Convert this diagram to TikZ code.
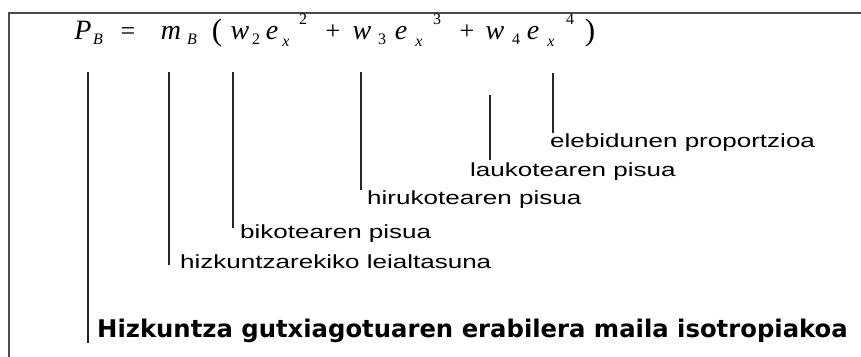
\documentclass[tikz,border=0pt]{standalone}
\usepackage{fontspec}
\setmainfont{Liberation Serif}
\newfontfamily\lblfont[FakeStretch=1.37]{Liberation Sans}
\newfontfamily\boldfont{DejaVu Sans}
\begin{document}
\begin{tikzpicture}[x=1pt,y=-1pt,
  frame/.style={draw=black!70,line width=2pt},
  pointer/.style={draw=black!85,line width=1.3pt},
  fm/.style={font=\fontsize{28}{28}\selectfont\itshape,inner sep=0pt,anchor=base},
  fu/.style={font=\fontsize{26}{26}\selectfont,inner sep=0pt,anchor=base},
  fs/.style={font=\fontsize{16}{16}\selectfont\itshape,inner sep=0pt,anchor=base},
  fsu/.style={font=\fontsize{16}{16}\selectfont,inner sep=0pt,anchor=base},
  paren/.style={font=\fontsize{31}{31}\selectfont,inner sep=0pt,anchor=base},
  lbl/.style={font=\lblfont\fontsize{19}{19}\selectfont,inner sep=0pt,anchor=base west},
  blbl/.style={font=\boldfont\bfseries\fontsize{24.3}{24.3}\selectfont,inner sep=0pt,anchor=base west}]
\useasboundingbox (0,0) rectangle (861,356);
\clip (0,0) rectangle (861,356);
\fill[white] (0,0) rectangle (861,356);
% frame
\draw[frame] (9,360) -- (9,13) -- (865,13);
% formula
\node[fm] (P) at (83,39) {P};
\node[fs] (PB) at (98,44) {B};
\node[fu] (eq) at (128,39) {=};
\node[fm] (m) at (171,39) {m};
\node[fs] (mB) at (192,44) {B};
\node[paren] (lp) at (217,40) {(};
\node[fm] (w2) at (240,39) {w};
\node[fsu] (s2) at (256,44) {2};
\node[fm] (e2) at (272,39) {e};
\node[fs] (x2) at (286,46) {x};
\node[fsu] (p2) at (303,24) {2};
\node[fu] (pl1) at (333,39) {+};
\node[fm] (w3) at (362,39) {w};
\node[fsu] (s3) at (382,44) {3};
\node[fm] (e3) at (401,39) {e};
\node[fs] (x3) at (419,46) {x};
\node[fsu] (p3) at (437,24) {3};
\node[fu] (pl2) at (467,39) {+};
\node[fm] (w4) at (495,39) {w};
\node[fsu] (s4) at (516,44) {4};
\node[fm] (e4) at (533,39) {e};
\node[fs] (x4) at (551,46) {x};
\node[fsu] (p4) at (570,24) {4};
\node[paren] (rp) at (590,40) {)};
% labels
\node[lbl] (l6) at (550,147) {elebidunen proportzioa};
\node[lbl] (l5) at (470,176) {laukotearen pisua};
\node[lbl] (l4) at (367,204) {hirukotearen pisua};
\node[lbl] (l3) at (240,238) {bikotearen pisua};
\node[lbl] (l2) at (180,268) {hizkuntzarekiko leialtasuna};
\node[blbl] (l1) at (97,337) {Hizkuntza gutxiagotuaren erabilera maila isotropiakoa};
% pointer coordinates
\coordinate (t1) at (88,72);  \coordinate (b1) at (88,343);
\coordinate (t2) at (169,72); \coordinate (b2) at (169,265);
\coordinate (t3) at (233,72); \coordinate (b3) at (233,228);
\coordinate (t4) at (361,72); \coordinate (b4) at (361,190);
\coordinate (t5) at (490,95); \coordinate (b5) at (490,160);
\coordinate (t6) at (553,73); \coordinate (b6) at (553,133);
\draw[pointer] (t1) -- (b1);
\draw[pointer] (t2) -- (b2);
\draw[pointer] (t3) -- (b3);
\draw[pointer] (t4) -- (b4);
\draw[pointer] (t5) -- (b5);
\draw[pointer] (t6) -- (b6);
\end{tikzpicture}
\end{document}
